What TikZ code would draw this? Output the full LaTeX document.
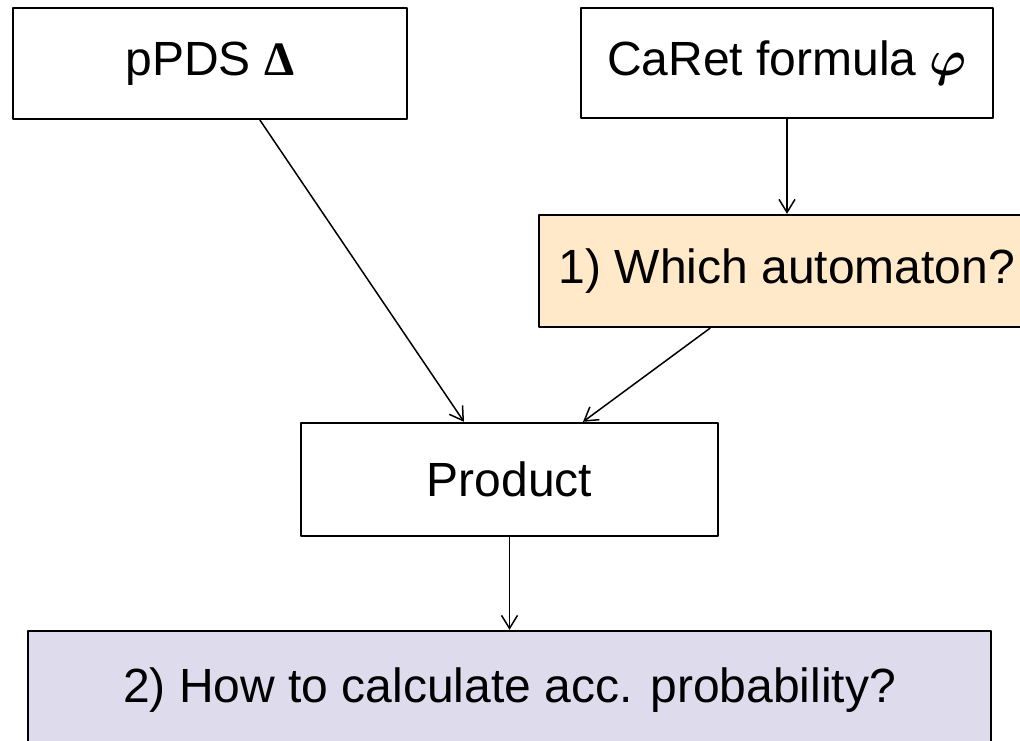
\documentclass[tikz,border=0pt]{standalone}
\usepackage{amsmath,amssymb,bm}
\usepackage{fontspec}
\setmainfont{Liberation Sans}
\newfontfamily\greekserif{Liberation Serif}
\usetikzlibrary{arrows.meta,calc}
\definecolor{peach}{RGB}{255,233,200}
\definecolor{lavender}{RGB}{222,219,236}

\begin{document}
\begin{tikzpicture}[line cap=round,line join=round,x=0.5pt,y=-0.5pt,
    box/.style={draw=black,line width=1.2pt,inner sep=0pt,align=center,
        font=\fontsize{24}{29}\selectfont},
    flow/.style={line width=0.75pt,-{Straight Barb[length=6.5pt,width=8pt,line width=0.75pt]}}]

    \useasboundingbox (0,0) rectangle (1020,740);
    \clip (0,0) rectangle (1020,740);

    % inputs
    \node[box,minimum width=197pt,minimum height=55.5pt] (ppds) at (210,63.5) {pPDS {\greekserif\bfseries Δ}};
    \node[box,minimum width=206pt,minimum height=55pt] (caret) at (787,63) {CaRet formula $\bm{\varphi}$};

    % automaton and product
    \node[box,fill=peach,minimum width=248pt,minimum height=56pt] (which) at (787,271) {1) Which automaton?};
    \node[box,minimum width=208.5pt,minimum height=56.5pt] (product) at (509.5,479.5) {Product};

    % result
    \node[box,fill=lavender,minimum width=481.5pt,minimum height=59pt] (howto) at (509.5,690) {2) How to calculate acc. probability?};

    \draw[flow] ($(ppds.south)+(50,0)$) -- ($(product.north)+(-45.5,0)$);
    \draw[flow] (caret.south) -- (which.north);
    \draw[flow] ($(which.south)+(-77,0)$) -- ($(product.north)+(73.5,0)$);
    \draw[flow] (product.south) -- (howto.north);
\end{tikzpicture}
\end{document}
